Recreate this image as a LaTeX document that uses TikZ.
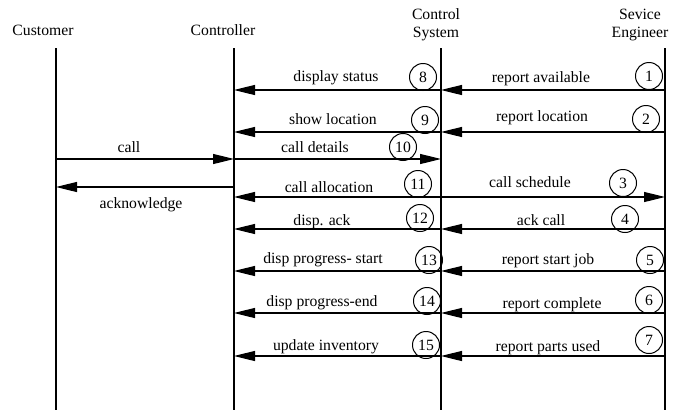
\documentclass[tikz,border=0pt]{standalone}
\usepackage{fontspec}
\setmainfont{Liberation Serif}
\usetikzlibrary{arrows.meta}
\tikzset{
	life/.style={line width=1.3pt},
	msg/.style={line width=1.2pt, -{Triangle[length=21pt,width=10pt]}},
	num/.style={draw, circle, line width=1pt, minimum size=27pt, inner sep=0pt},
}

\begin{document}
\begin{tikzpicture}[x=1pt, y=-1pt, every node/.style={font=\fontsize{15.7}{18}\selectfont, inner sep=0pt}]
	%%%%% START %%%%%
	\useasboundingbox (0,0) rectangle (680,410);
	
	\node (cust) at (43,30) {Customer};
	\node (ctrl) at (223,30) {Controller};
	\node[align=center] (csys) at (436,24.5) {Control\\System};
	\node[align=center] (seng) at (640,24.5) {Sevice\\Engineer};
	
	\coordinate (cu) at (56,48);
	\coordinate (co) at (234,48);
	\coordinate (cs) at (441,48);
	\coordinate (se) at (665,48);
	\foreach \l in {cu,co,cs,se}
		\draw[life] (\l) -- (\l |- 0,410);
	
	% engineer -> control system
	\draw[msg] (se |- 0,90) -- (cs |- 0,90);
	\node (ravail) at (541,79) {report available};
	\node[num] (n1) at (649,76) {1};
	\draw[msg] (se |- 0,132) -- (cs |- 0,132);
	\node (rloc) at (542,118) {report location};
	\node[num] (n2) at (646,119) {2};
	\draw[msg] (cs |- 0,197) -- (se |- 0,197);
	\node (csched) at (530,182) {call schedule};
	\node[num] (n3) at (623,183) {3};
	\draw[msg] (se |- 0,229) -- (cs |- 0,229);
	\node (ackc) at (541,220) {ack call};
	\node[num] (n4) at (625,219) {4};
	\draw[msg] (se |- 0,271) -- (cs |- 0,271);
	\node (rstart) at (548,261) {report start job};
	\node[num] (n5) at (650,260) {5};
	\draw[msg] (se |- 0,313) -- (cs |- 0,313);
	\node (rcompl) at (552,305) {report complete};
	\node[num] (n6) at (649,300) {6};
	\draw[msg] (se |- 0,356) -- (cs |- 0,356);
	\node (rparts) at (548,348) {report parts used};
	\node[num] (n7) at (649,340) {7};
	
	% control system -> controller
	\draw[msg] (cs |- 0,90) -- (co |- 0,90);
	\node (dstat) at (336,78) {display status};
	\node[num] (n8) at (423,77) {8};
	\draw[msg] (cs |- 0,132) -- (co |- 0,132);
	\node (sloc) at (333,119) {show location};
	\node[num] (n9) at (425,120) {9};
	\draw[msg] (co |- 0,159) -- (cs |- 0,159);
	\node (cdet) at (315,147) {call details};
	\node[num] (n10) at (403,147) {10};
	\draw[msg] (cs |- 0,197) -- (co |- 0,197);
	\node (calloc) at (329,187) {call allocation};
	\node[num] (n11) at (418,184) {11};
	\draw[msg] (cs |- 0,229) -- (co |- 0,229);
	\node (dack) at (322,222) {disp. ack};
	\node[num] (n12) at (420,218) {12};
	\draw[msg] (cs |- 0,271) -- (co |- 0,271);
	\node (dpstart) at (323,260) {disp progress- start};
	\node[num] (n13) at (429,260) {13};
	\draw[msg] (cs |- 0,313) -- (co |- 0,313);
	\node (dpend) at (322,303) {disp progress-end};
	\node[num] (n14) at (427,301) {14};
	\draw[msg] (cs |- 0,356) -- (co |- 0,356);
	\node (uinv) at (326,347) {update inventory};
	\node[num] (n15) at (426,345) {15};
	
	% customer <-> controller
	\draw[msg] (cu |- 0,159) -- (co |- 0,159);
	\node (callt) at (129,147) {call};
	\draw[msg] (co |- 0,187) -- (cu |- 0,187);
	\node (ackn) at (141,205) {acknowledge};
	
	%%%%% END %%%%%
\end{tikzpicture}
\end{document}
